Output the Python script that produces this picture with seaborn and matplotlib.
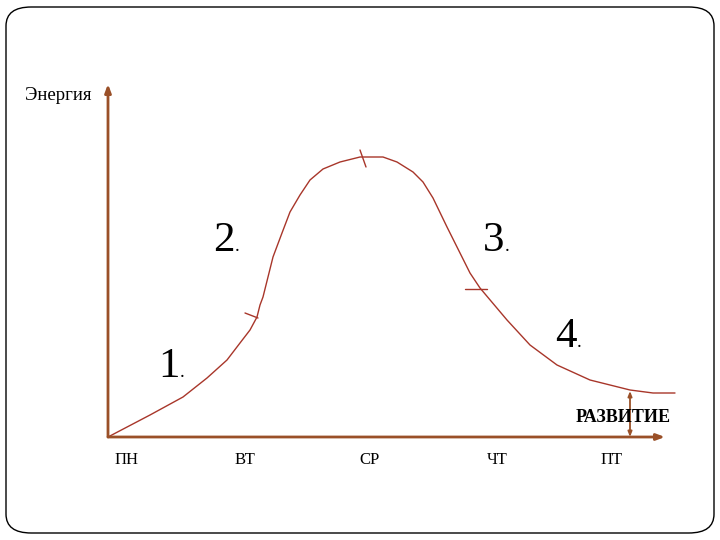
import matplotlib
matplotlib.use("Agg")
import matplotlib.pyplot as plt
from matplotlib.patches import FancyBboxPatch
import seaborn as sns
import pandas as pd

# Data (x: development along week, y: energy level)
curve_x = [0, 42, 75, 99, 119, 132, 142, 149, 152, 155, 165, 174, 182, 192, 202,
           215, 232, 252, 275, 289, 305, 315, 325, 339, 352, 362, 372, 399, 422,
           449, 482, 522, 545, 567]
curve_y = [0, 22, 40, 59, 77, 94, 107, 120, 132, 140, 180, 204, 225, 242, 257,
           268, 275, 280, 280, 275, 265, 255, 239, 210, 184, 164, 149, 117, 92,
           72, 57, 47, 44, 44]
days = ["ПН", "ВТ", "СР", "ЧТ", "ПТ"]
day_pos = [19, 137, 262, 389, 504]
phase_labels = ["1", "2", "3", "4"]
phase_pos = [(50, 60), (105, 186), (375, 186), (447, 90)]
y_title = "Энергия"
x_title = "РАЗВИТИЕ"

sns.set_theme(style="white")
plt.rcParams['font.family'] = ['Liberation Serif', 'DejaVu Serif']

fig = plt.figure(figsize=(7.2, 5.4), dpi=100)
fig.patch.set_facecolor("white")
frame = FancyBboxPatch((6/720, 7/540), 708/720, 526/540,
                       boxstyle="round,pad=0,rounding_size=0.035",
                       transform=fig.transFigure, fill=False,
                       edgecolor="black", linewidth=1.0)
fig.patches.append(frame)

ax = fig.add_axes([0, 0, 1, 1])
ax.set_xlim(-108, 612)
ax.set_ylim(-103, 437)
ax.axis("off")

df = pd.DataFrame({"x": curve_x, "y": curve_y})
sns.lineplot(data=df, x="x", y="y", sort=False, ax=ax, color="#a8362a",
             linewidth=1.0, estimator=None)

axis_color = "#9a5028"
# axes with arrows
ax.annotate("", xy=(557, 0), xytext=(0, 0),
            arrowprops=dict(arrowstyle="-|>,head_length=0.4,head_width=0.15",
                            color=axis_color, lw=2.0, shrinkA=0, shrinkB=0))
ax.annotate("", xy=(0, 353), xytext=(0, 0),
            arrowprops=dict(arrowstyle="-|>,head_length=0.4,head_width=0.15",
                            color=axis_color, lw=2.0, shrinkA=0, shrinkB=0))
# vertical arrow at ПТ
ax.annotate("", xy=(522, 46), xytext=(522, 0),
            arrowprops=dict(arrowstyle="<|-|>,head_length=0.25,head_width=0.1",
                            color=axis_color, lw=1.3, shrinkA=0, shrinkB=0))

# tick marks on curve
tick_color = "#a8362a"
ax.plot([137, 150], [124, 119], color=tick_color, lw=1.0)
ax.plot([252, 258], [287, 270], color=tick_color, lw=1.0)
ax.plot([357, 379], [148, 148], color=tick_color, lw=1.0)

# labels
for d, p in zip(days, day_pos):
    ax.text(p, -23, d, ha="center", va="center", fontsize=12, color="black")
ax.text(-83, 342, y_title, ha="left", va="center", fontsize=13.5, color="black")
ax.text(515, 20, x_title, ha="center", va="center", fontsize=13,
        fontweight="bold", color="black")
for lab, (px, py) in zip(phase_labels, phase_pos):
    ax.text(px, py, lab, ha="left", va="baseline", fontsize=31, color="black")
    ax.annotate(".", xy=(px, py), xytext=(16, 0), textcoords="offset points",
                fontsize=14, color="black", ha="left", va="baseline")

fig.savefig("out.png", dpi=100)
